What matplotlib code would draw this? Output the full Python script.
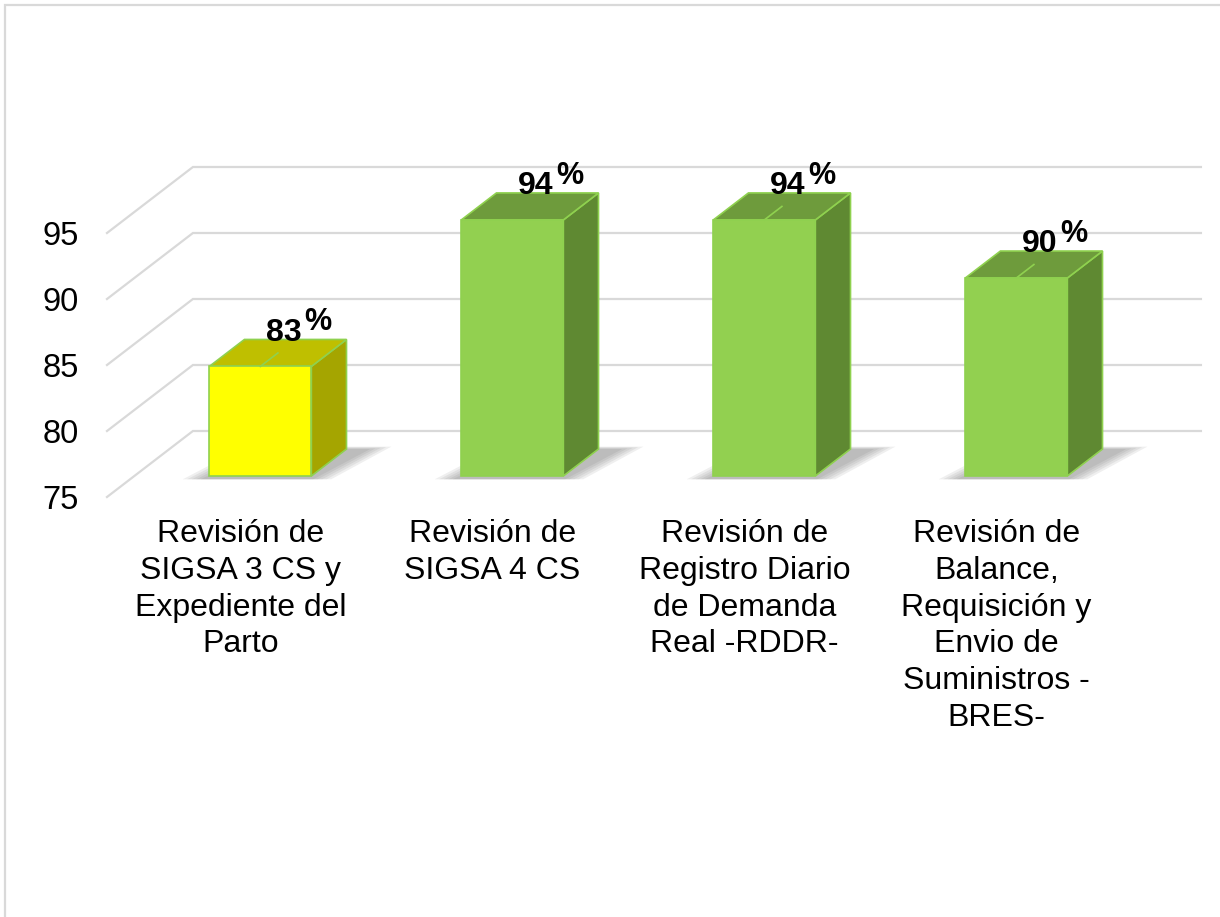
import matplotlib.pyplot as plt
import matplotlib.patches as patches

plt.rcParams['font.family'] = ['Liberation Sans', 'DejaVu Sans']

categories = [
    "Revisión de\nSIGSA 3 CS y\nExpediente del\nParto",
    "Revisión de\nSIGSA 4 CS",
    "Revisión de\nRegistro Diario\nde Demanda\nReal -RDDR-",
    "Revisión de\nBalance,\nRequisición y\nEnvio de\nSuministros -\nBRES-",
]
values = [83.3, 94.4, 94.4, 90.0]
value_labels = ["83", "94", "94", "90"]
y_ticks = [75, 80, 85, 90, 95]

front_colors = ['#ffff00', '#92d050', '#92d050', '#92d050']
top_colors = ['#bfbf00', '#6e9b3c', '#6e9b3c', '#6e9b3c']
side_colors = ['#a5a500', '#5f8932', '#5f8932', '#5f8932']
leader = [True, False, True, True]

BASE = 75
DX, DY = 0.341, 5.0      # oblique depth offset (front -> back wall)
W = 0.405                # bar width
D0, D1 = 0.318, 0.727    # bar depth range


def proj(x, y, d):
    return x + d * DX, y + d * DY


fig = plt.figure(figsize=(12.2, 9.17), dpi=100)
ax = fig.add_axes([0, 0, 1, 1])
ax.set_xlim(-233 / 252, (1220 - 233) / 252)
ax.set_ylim(BASE - 420 / 13.2, BASE + 497 / 13.2)
ax.axis('off')

# outer chart border (only top/left visible)
fig.patches.append(patches.Rectangle((5 / 1220, -0.05), 1.1, 1 - 5 / 917 + 0.05,
                                     transform=fig.transFigure, fill=False,
                                     edgecolor='#d9d9d9', lw=1.6))

n = len(categories)
grid_c = '#d9d9d9'
for t in y_ticks:
    x_front, y_front = proj(-0.5, t, 0)
    x_back, y_back = proj(-0.5, t, 1)
    x_end, _ = proj(n - 0.5, t, 1)
    ax.plot([x_front, x_back, x_end], [y_front, y_back, y_back],
            color=grid_c, lw=1.6, solid_joinstyle='miter', zorder=1)
    ax.annotate(str(t), (x_front, y_front), xytext=(-20, 0),
                textcoords='offset points', ha='right', va='center_baseline',
                fontsize=23.5, color='black')

for i, v in enumerate(values):
    x0, x1 = i - W / 2, i + W / 2

    # soft shadow on the floor
    for k in range(5):
        e = 0.018 * k
        pts = [proj(x0 - 0.03 - e, BASE - 0.2, D0 - 0.01),
               proj(x1 + 0.01 + e, BASE - 0.2, D0 - 0.01),
               proj(x1 + 0.08 + e, BASE - 0.2, D1 + 0.04 + e * 0.5),
               proj(x0 + 0.05 - e, BASE - 0.2, D1 + 0.04 + e * 0.5)]
        ax.add_patch(patches.Polygon(pts, closed=True, facecolor='#505050',
                                     edgecolor='none', alpha=0.09, zorder=2))

    edge = '#8fd14f'
    front = [proj(x0, BASE, D0), proj(x1, BASE, D0), proj(x1, v, D0), proj(x0, v, D0)]
    top = [proj(x0, v, D0), proj(x1, v, D0), proj(x1, v, D1), proj(x0, v, D1)]
    side = [proj(x1, BASE, D0), proj(x1, BASE, D1), proj(x1, v, D1), proj(x1, v, D0)]
    for pts, c in [(side, side_colors[i]), (top, top_colors[i]), (front, front_colors[i])]:
        ax.add_patch(patches.Polygon(pts, closed=True, facecolor=c,
                                     edgecolor=edge, lw=1.2, zorder=3))

    # top face centre and data label
    cx, cy = proj(i, v, (D0 + D1) / 2)
    if leader[i]:
        fx, fy = proj(i, v, D0)
        ax.plot([fx, cx], [fy, cy], color='#8fd14f', lw=1.2, zorder=4)
    ax.annotate(value_labels[i], (cx, cy), xytext=(4, 14.5), textcoords='offset points',
                ha='center', va='center', fontsize=23, fontweight='bold', zorder=5)
    ax.annotate('%', (cx, cy), xytext=(29, 22), textcoords='offset points',
                ha='center', va='center', fontsize=22, fontweight='bold', zorder=5)

    ax.text(i + 0.03, BASE - 1.65, categories[i], ha='center', va='top',
            fontsize=23, linespacing=1.3, color='black')

fig.savefig('out.png', dpi=100)
